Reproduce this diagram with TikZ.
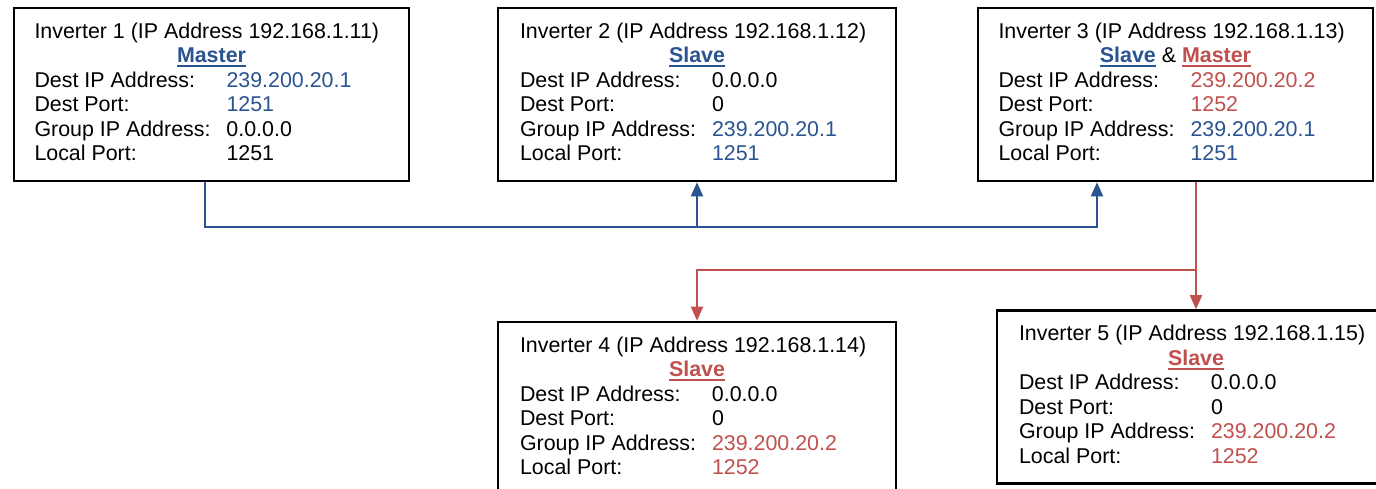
\documentclass[tikz,border=0pt]{standalone}
\usepackage{fontspec}
\setmainfont{Liberation Sans}
\usepackage{array}
\usetikzlibrary{arrows.meta, positioning}

\definecolor{netblue}{HTML}{2A5391}
\definecolor{netred}{HTML}{C0504D}

\newcommand{\bl}[1]{\textcolor{netblue}{#1}}
\newcommand{\rd}[1]{\textcolor{netred}{#1}}
\newcommand{\role}[2]{\textcolor{#1}{\setbox0\hbox{\bfseries #2}\rlap{\rule[-2.3pt]{\wd0}{0.9pt}}\box0}}
\newcommand{\invinfo}[6]{%
  \begin{tabular}{@{}p{96pt}@{}p{81pt}@{}}
    \multicolumn{2}{@{}l@{}}{#1}\\
    \multicolumn{2}{@{}c@{}}{#2}\\
    Dest IP Address: & #3\\
    Dest Port: & #4\\
    Group IP Address: & #5\\
    Local Port: & #6
  \end{tabular}}

\begin{document}
\begin{tikzpicture}[x=0.5pt, y=-0.5pt, >={Triangle[length=7pt,width=6pt]},
    invbox/.style={draw, rectangle, line width=1.3pt, inner sep=0pt,
      minimum width=199pt, minimum height=86.5pt,
      font=\fontsize{10.7}{12.25}\selectfont},
    blueline/.style={draw=netblue, line width=1pt},
    redline/.style={draw=netred, line width=1pt}]
    \useasboundingbox (0,0) rectangle (1376,488);
    \clip (0,0) rectangle (1376,488);

    % inverters
    \node [invbox, minimum width=197.5pt] (inv1) at (211.5,94.5)
      {\invinfo{Inverter 1 (IP Address 192.168.1.11)}{\role{netblue}{Master}}{\bl{239.200.20.1}}{\bl{1251}}{0.0.0.0}{1251}};
    \node [invbox] (inv2) at (697,94.5)
      {\invinfo{Inverter 2 (IP Address 192.168.1.12)}{\role{netblue}{Slave}}{0.0.0.0}{0}{\bl{239.200.20.1}}{\bl{1251}}};
    \node [invbox, minimum width=197.5pt] (inv3) at (1175.5,94.5)
      {\invinfo{Inverter 3 (IP Address 192.168.1.13)}{\role{netblue}{Slave} \& \role{netred}{Master}}{\rd{239.200.20.2}}{\rd{1252}}{\bl{239.200.20.1}}{\bl{1251}}};
    \node [invbox] (inv4) at (697,408.5)
      {\invinfo{Inverter 4 (IP Address 192.168.1.14)}{\role{netred}{Slave}}{0.0.0.0}{0}{\rd{239.200.20.2}}{\rd{1252}}};
    \node [invbox] (inv5) at (1196,397)
      {\invinfo{Inverter 5 (IP Address 192.168.1.15)}{\role{netred}{Slave}}{0.0.0.0}{0}{\rd{239.200.20.2}}{\rd{1252}}};

    \coordinate (bluebus) at (1097,227);
    \coordinate (redbus) at (1196,270);

    % group 239.200.20.1
    \draw[blueline, ->] ([xshift=-3.25pt]inv1.south) |- (bluebus) -- (bluebus |- inv3.south);
    \draw[blueline, ->] (inv2.south |- bluebus) -- (inv2.south);

    % group 239.200.20.2
    \draw[redline, ->] (inv3.south -| inv5.north) -- (inv5.north);
    \draw[redline, ->] (redbus) -| (inv4.north);
\end{tikzpicture}
\end{document}
